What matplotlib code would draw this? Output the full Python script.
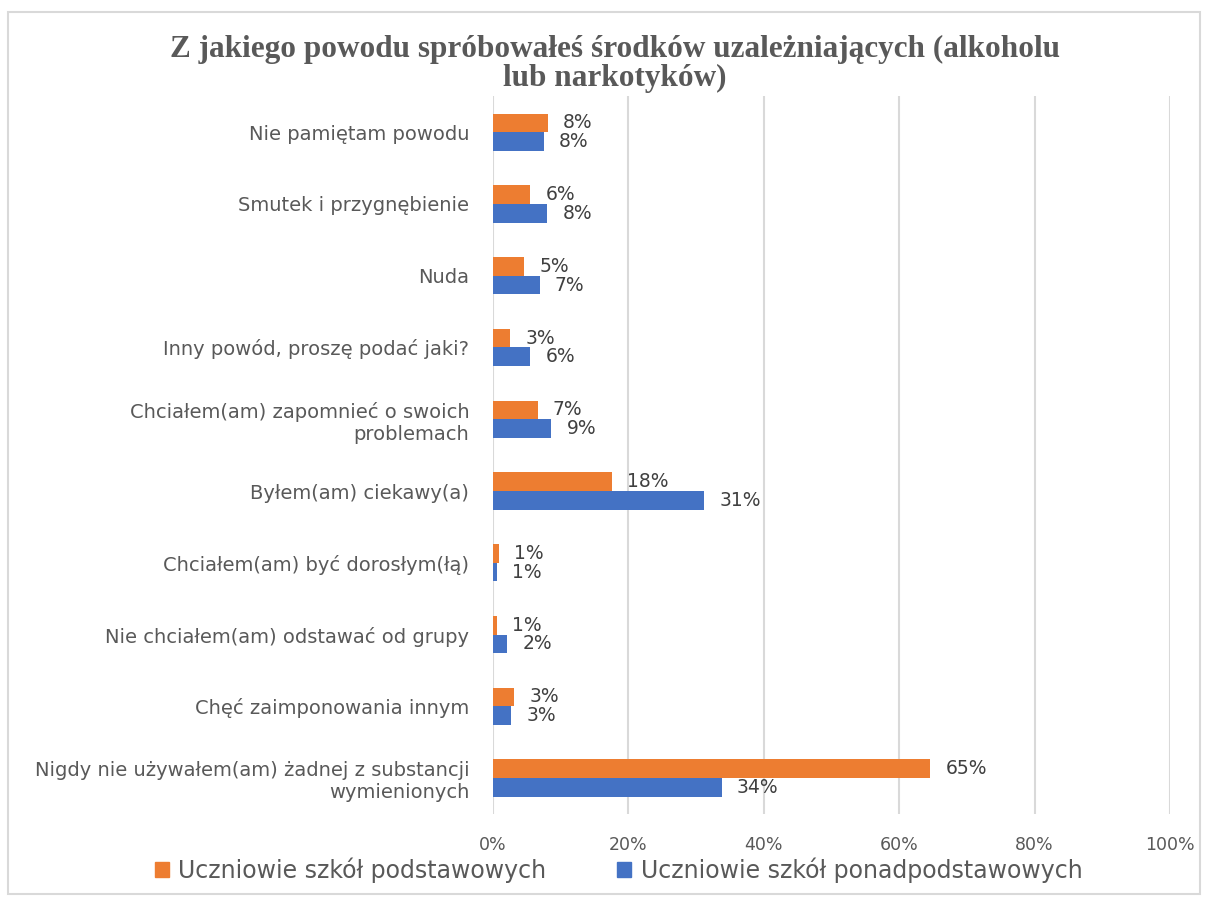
import matplotlib.pyplot as plt
import numpy as np
from matplotlib.patches import Rectangle, Patch

categories = [
    "Nie pamiętam powodu",
    "Smutek i przygnębienie",
    "Nuda",
    "Inny powód, proszę podać jaki?",
    "Chciałem(am) zapomnieć o swoich\nproblemach",
    "Byłem(am) ciekawy(a)",
    "Chciałem(am) być dorosłym(łą)",
    "Nie chciałem(am) odstawać od grupy",
    "Chęć zaimponowania innym",
    "Nigdy nie używałem(am) żadnej z substancji\nwymienionych",
]
podstawowe = [8.1, 5.5, 4.6, 2.6, 6.6, 17.6, 0.9, 0.6, 3.1, 64.6]
ponadpodstawowe = [7.5, 8.0, 6.9, 5.5, 8.6, 31.2, 0.6, 2.1, 2.7, 33.8]
xticks = [0, 20, 40, 60, 80, 100]

orange = "#ED7D31"
blue = "#4472C4"
txt = "#595959"
font = "DejaVu Sans"

fig = plt.figure(figsize=(12.08, 9), dpi=100)
ax = fig.add_axes([0.408, 0.0956, 0.5606, 0.7974])

y = np.arange(len(categories))
h = 0.26
ax.barh(y - h / 2, podstawowe, height=h, color=orange, zorder=3)
ax.barh(y + h / 2, ponadpodstawowe, height=h, color=blue, zorder=3)

for yi, v in zip(y, podstawowe):
    ax.annotate(f"{round(v)}%", (v, yi - h / 2), xytext=(11, 0), textcoords="offset points",
                va="center", ha="left", fontsize=13.5, color="#404040", family=font)
for yi, v in zip(y, ponadpodstawowe):
    ax.annotate(f"{round(v)}%", (v, yi + h / 2), xytext=(11, 0), textcoords="offset points",
                va="center", ha="left", fontsize=13.5, color="#404040", family=font)

ax.set_xlim(0, 100)
ax.set_ylim(len(categories) - 0.5, -0.5)
ax.set_xticks(xticks)
ax.set_xticklabels([f"{t}%" for t in xticks], fontsize=12.5, color=txt, family=font)
ax.set_yticks(y)
ax.set_yticklabels(categories, fontsize=14, color=txt, family=font)
ax.tick_params(length=0)
ax.tick_params(axis="y", pad=17)
ax.tick_params(axis="x", pad=16)
ax.grid(axis="x", color="#d9d9d9", linewidth=1.5, zorder=0)
for s in ax.spines.values():
    s.set_visible(False)

fig.text(0.509, 0.929, "Z jakiego powodu spróbowałeś środków uzależniających (alkoholu\nlub narkotyków)",
         ha="center", va="center", fontsize=22.5, fontweight="bold", color=txt,
         family="Liberation Serif", linespacing=1.02)

handles = [Patch(color=orange, label="Uczniowie szkół podstawowych"),
           Patch(color=blue, label="Uczniowie szkół ponadpodstawowych")]
fig.legend(handles=handles, loc="center", bbox_to_anchor=(0.512, 0.033), ncol=2, frameon=False,
           prop={"family": font, "size": 17}, labelcolor=txt, handlelength=0.6,
           handleheight=0.6, handletextpad=0.4, columnspacing=3.0)

fig.patches.append(Rectangle((0.007, 0.007), 0.986, 0.98, transform=fig.transFigure,
                             fill=False, edgecolor="#d9d9d9", linewidth=1.5))

fig.savefig("out.png", dpi=100)
